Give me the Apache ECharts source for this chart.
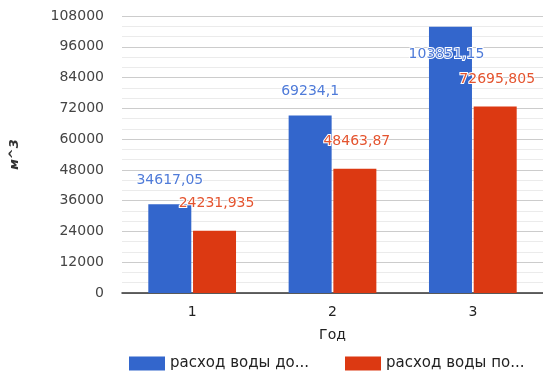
<!DOCTYPE html>
<html><head><meta charset="utf-8">
<script src="https://cdn.jsdelivr.net/npm/echarts@6/dist/echarts.min.js"></script>
<style>html,body{margin:0;padding:0;background:#fff}#c{width:543px;height:372px}</style>
</head><body><div id="c"></div>
<script>
var categories = ['1', '2', '3'];
var seriesNames = ['расход воды до...', 'расход воды по...'];
var before = [34617.05, 69234.1, 103851.15];
var after = [24231.935, 48463.87, 72695.805];
var yTicks = { min: 0, max: 108000, interval: 12000 };

var fmt = function (p) { return String(p.value).replace('.', ','); };
var font = 'DejaVu Sans';
var chart = echarts.init(document.getElementById('c'), null, { renderer: 'canvas' });

var beforeData = before.map(function (v, i) {
  if (i === 2) return { value: v, label: { position: 'insideTop', distance: 21, offset: [-4, 0] } };
  return v;
});

chart.setOption({
  animation: false,
  textStyle: { fontFamily: font },
  grid: { left: 121, right: -9, top: 16, bottom: 79, containLabel: false },
  legend: {
    left: 124, top: 351, itemWidth: 36, itemHeight: 14, itemGap: 36,
    icon: 'rect',
    textStyle: { fontFamily: font, fontSize: 15, color: '#222' },
    data: seriesNames
  },
  xAxis: {
    type: 'category', data: categories,
    name: 'Год', nameLocation: 'middle', nameGap: 35,
    nameTextStyle: { fontFamily: font, fontSize: 14, color: '#222' },
    axisLine: { lineStyle: { color: '#333', width: 1.5 } },
    axisTick: { show: false },
    axisLabel: { fontFamily: font, fontSize: 14, color: '#222', margin: 12 }
  },
  yAxis: {
    type: 'value', min: yTicks.min, max: yTicks.max, interval: yTicks.interval,
    name: 'м^3', nameLocation: 'middle', nameGap: 101, nameRotate: 90,
    nameTextStyle: { fontFamily: font, fontSize: 13, fontStyle: 'italic', fontWeight: 'bold', color: '#333' },
    axisLine: { show: false }, axisTick: { show: false },
    axisLabel: { fontFamily: font, fontSize: 14, color: '#444', margin: 18,
      formatter: function (v) { return String(v); } },
    splitLine: { lineStyle: { color: '#cccccc', width: 1 } },
    minorTick: { show: false, splitNumber: 3 },
    minorSplitLine: { show: true, lineStyle: { color: '#ebebeb', width: 1 } }
  },
  series: [
    {
      name: seriesNames[0], type: 'bar', data: beforeData,
      barWidth: 43, barGap: '4%',
      itemStyle: { color: '#3366cc' },
      label: { show: true, position: 'top', distance: 17, formatter: fmt,
        fontFamily: font, fontSize: 14, color: '#4f7bd9',
        textBorderColor: '#fff', textBorderWidth: 2 }
    },
    {
      name: seriesNames[1], type: 'bar', data: after,
      barWidth: 43,
      itemStyle: { color: '#dc3912' },
      label: { show: true, position: 'top', distance: 20, offset: [2, 0], formatter: fmt,
        fontFamily: font, fontSize: 14, color: '#e4542f',
        textBorderColor: '#fff', textBorderWidth: 2 }
    }
  ]
});
</script></body></html>
